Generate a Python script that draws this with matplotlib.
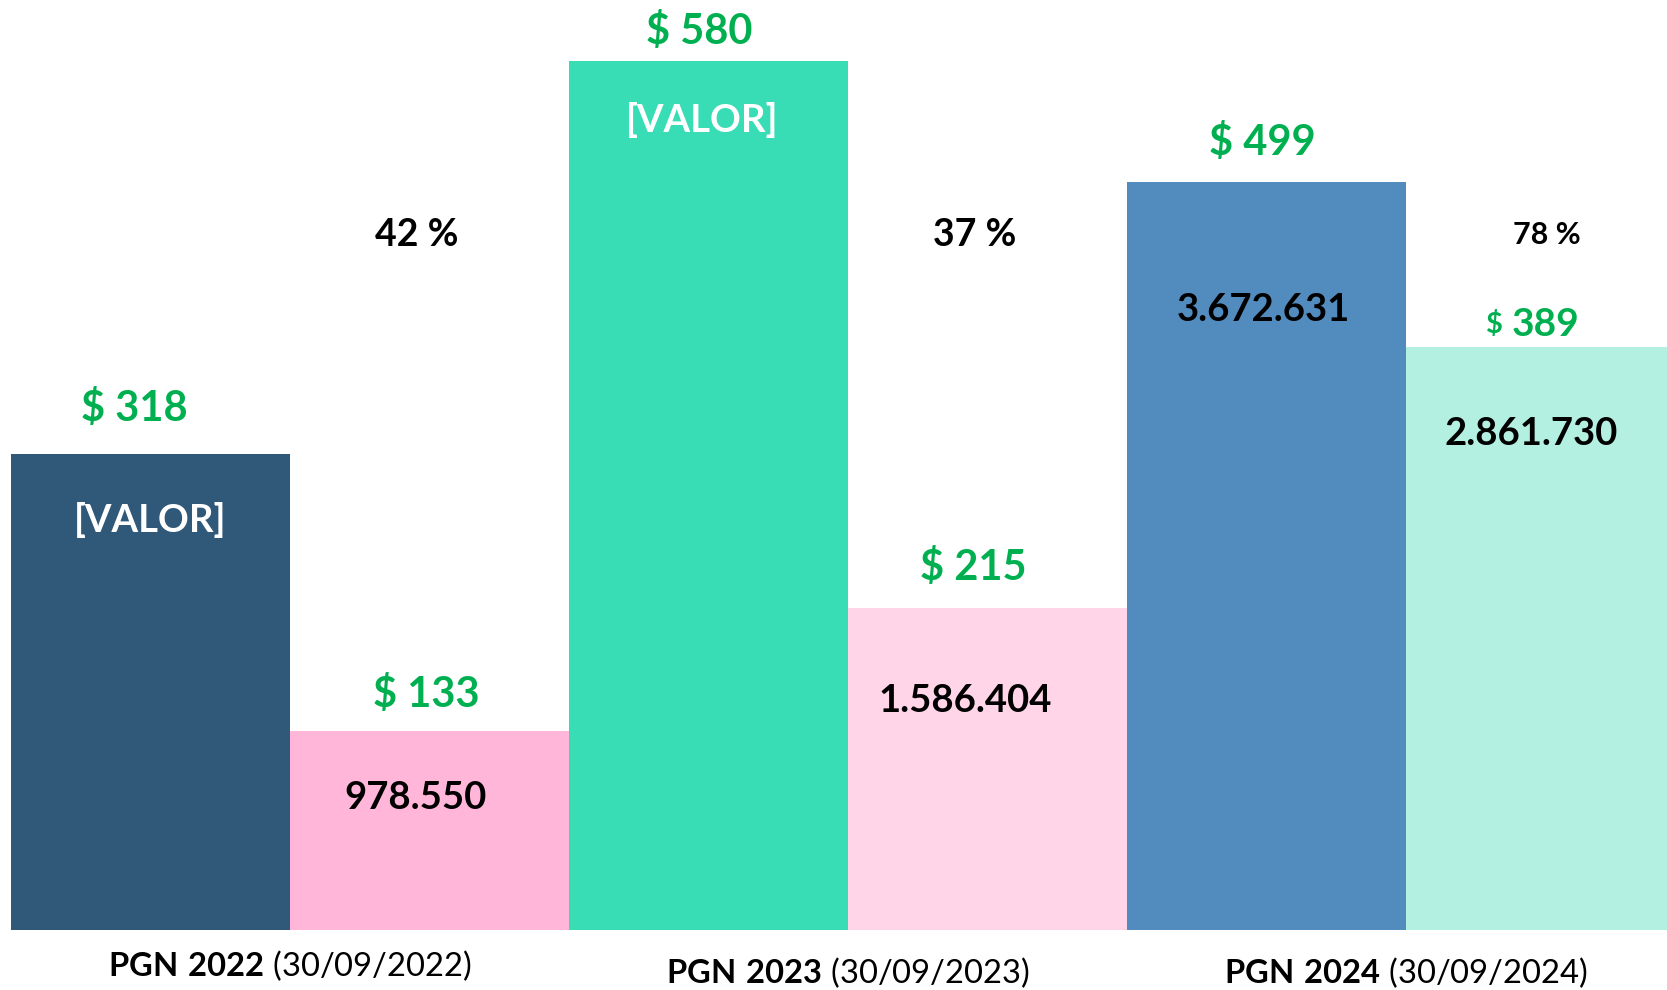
import matplotlib
matplotlib.use("Agg")
import matplotlib.pyplot as plt
import numpy as np

plt.rcParams['font.family'] = ['Lato', 'DejaVu Sans']
plt.rcParams['mathtext.fontset'] = 'custom'
plt.rcParams['mathtext.rm'] = 'Lato'
plt.rcParams['mathtext.bf'] = 'Lato:bold'

# data
amounts = [318, 133, 580, 215, 499, 389]
inner_labels = ["[VALOR]", "978.550", "[VALOR]", "1.586.404", "3.672.631", "2.861.730"]
pct_labels = ["42 %", "37 %", "78 %"]
groups = ["PGN 2022", "PGN 2023", "PGN 2024"]
dates = ["(30/09/2022)", "(30/09/2023)", "(30/09/2024)"]

colors = ["#2F5879", "#FFB6D8", "#38DCB5", "#FFD5E7", "#528CBF", "#B3F0E1"]
inner_colors = ["white", "black", "white", "black", "black", "black"]
green = "#00B050"

fig = plt.figure(figsize=(16.67, 9.9), dpi=100)
ax = fig.add_axes([10.6 / 1667, 60 / 990, 1 - 10.6 / 1667, 930 / 990])
x = np.arange(len(amounts))
ax.bar(x, amounts, width=1.0, color=colors, linewidth=0)
ax.set_xlim(-0.5, 5.437)
ax.set_ylim(0, 620.8)
ax.axis("off")

# label offsets (x shift, y above top, y below top)
top_dx = [-0.055, -0.01, -0.03, -0.05, -0.015, -0.05]
top_dy = [30, 24, 20, 27, 27, 15]
in_dx = [0.0, -0.05, -0.02, -0.08, -0.01, -0.05]
in_dy = [44, 45, 39, 62, 85, 58]

for i, v in enumerate(amounts):
    if i == 5:
        # smaller dollar sign on the last label
        ax.text(x[i] + top_dx[i] - 0.13, v + top_dy[i], "$", color=green,
                fontsize=21, fontweight="bold", ha="center", va="center")
        ax.text(x[i] + top_dx[i] + 0.05, v + top_dy[i], str(v), color=green,
                fontsize=28, fontweight="bold", ha="center", va="center")
    else:
        ax.text(x[i] + top_dx[i], v + top_dy[i], f"$ {v}", color=green,
                fontsize=30, fontweight="bold", ha="center", va="center")
    ax.text(x[i] + in_dx[i], v - in_dy[i], inner_labels[i], color=inner_colors[i],
            fontsize=27.5, fontweight="bold", ha="center", va="center")

pct_sizes = [27, 27, 22]
for j, p in enumerate(pct_labels):
    ax.text(2 * j + 1 - 0.045 + (0.05 if j == 2 else 0), 464, p, color="black",
            fontsize=pct_sizes[j], fontweight="bold", ha="center", va="center")

label_y = [-24, -28.5, -28.5]
for j, (g, d) in enumerate(zip(groups, dates)):
    ax.text(2 * j + 0.5, label_y[j], r"$\mathbf{" + g.replace(" ", r"\ ") + "}$ " + d,
            fontsize=23.6, ha="center", va="center", clip_on=False)

fig.savefig("out.png", dpi=100)
